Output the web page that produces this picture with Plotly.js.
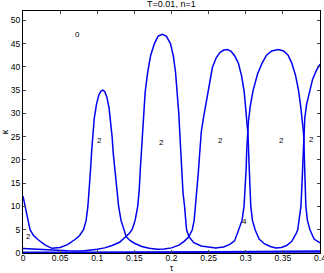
<!DOCTYPE html>
<html>
<head>
<meta charset="utf-8">
<script src="https://cdn.plot.ly/plotly-3.0.1.min.js"></script>
<style>html,body{margin:0;padding:0;background:#fff;}#chart{width:324px;height:273px;}</style>
</head>
<body>
<div id="chart"></div>
<script>
// Curve A: from left edge, U to peak 1, U, peak 3, U, rising to right edge
const tauA = [0, 0.002, 0.004, 0.0065, 0.0095, 0.014, 0.02, 0.03, 0.039, 0.05, 0.06, 0.07, 0.076, 0.0815, 0.085, 0.0874, 0.0895, 0.091, 0.0925, 0.0937, 0.096, 0.099, 0.102, 0.105, 0.1075, 0.11, 0.113, 0.116, 0.118, 0.12, 0.1215, 0.1235, 0.126, 0.1288, 0.132, 0.1355, 0.139, 0.144, 0.15, 0.16, 0.17, 0.181, 0.19, 0.2, 0.21, 0.217, 0.2234, 0.2255, 0.228, 0.2305, 0.2324, 0.2343, 0.236, 0.238, 0.2401, 0.243, 0.246, 0.25, 0.255, 0.26, 0.2655, 0.2705, 0.2752, 0.28, 0.285, 0.29, 0.2945, 0.298, 0.3005, 0.302, 0.303, 0.3045, 0.3055, 0.3068, 0.309, 0.3126, 0.318, 0.325, 0.333, 0.3405, 0.348, 0.355, 0.362, 0.366, 0.368, 0.37, 0.372, 0.3743, 0.3755, 0.3765, 0.3775, 0.378, 0.3795, 0.382, 0.386, 0.39, 0.395, 0.4];
const kapA = [12.2, 10.5, 9, 7, 5, 3.8, 2.9, 1.7, 1.0, 1.2, 1.8, 2.9, 3.7, 5, 7, 10, 14, 18, 22, 25, 29, 32, 33.9, 34.8, 35, 34.7, 33.5, 31, 28.5, 25, 21.5, 18, 14, 10, 7, 5, 3.5, 2.7, 2.1, 1.4, 1.0, 0.8, 0.85, 1.1, 1.7, 2.5, 3.5, 4.2, 5, 7, 10, 13.5, 17, 21.5, 26, 29, 31.5, 35.5, 39.8, 41.9, 43.1, 43.6, 43.7, 43.4, 42.4, 40.8, 38, 34.5, 30.5, 27.5, 25.5, 19, 14, 10, 7, 5, 3, 2, 1.4, 1.1, 1.2, 1.6, 2.5, 3.5, 4.2, 5, 7, 10, 14, 18, 22, 25.5, 29, 32, 35, 37.3, 39.2, 40.6];
// Curve B: from left edge, U to peak 2, U, peak 4, descending to right edge
const tauB = [0, 0.02, 0.04, 0.06, 0.08, 0.09, 0.1, 0.11, 0.12, 0.13, 0.139, 0.143, 0.1469, 0.151, 0.1545, 0.1565, 0.158, 0.1593, 0.1604, 0.1622, 0.1645, 0.168, 0.172, 0.177, 0.182, 0.1874, 0.193, 0.1986, 0.2025, 0.2054, 0.2078, 0.2098, 0.2113, 0.2125, 0.2135, 0.2155, 0.2176, 0.219, 0.2203, 0.2234, 0.2265, 0.23, 0.24, 0.2595, 0.27, 0.278, 0.285, 0.291, 0.295, 0.2977, 0.2995, 0.3005, 0.3013, 0.302, 0.3035, 0.306, 0.31, 0.316, 0.322, 0.328, 0.335, 0.3437, 0.351, 0.357, 0.362, 0.367, 0.371, 0.374, 0.3765, 0.378, 0.379, 0.3795, 0.3805, 0.381, 0.383, 0.3865, 0.392, 0.4];
const kapB = [0.95, 0.75, 0.6, 0.5, 0.45, 0.6, 0.8, 1.1, 1.6, 2.3, 3.5, 4.2, 5, 7, 10, 13.5, 18, 21.5, 25.4, 30, 34.5, 38.9, 42.5, 45, 46.6, 47, 46.6, 45, 42.3, 38.9, 34.5, 30, 25.4, 21, 17, 13, 10, 7, 5, 3.5, 2.8, 2.2, 1.5, 1.1, 1.3, 1.8, 2.6, 5, 7, 10, 14, 18, 22, 25.5, 28, 31.5, 35, 38.5, 40.8, 42.5, 43.4, 43.7, 43.4, 42.5, 40.8, 38.2, 35, 31.5, 28, 25.5, 20, 18, 14, 10, 7, 5, 3.0, 2.2];
// near-zero branches
const tauC = [0, 0.1, 0.2, 0.3, 0.4];
const kapC = [0.15, 0.15, 0.2, 0.2, 0.2];
const tauD = [0.08, 0.15, 0.25, 0.33, 0.4];
const kapD = [0.05, 0.15, 0.3, 0.4, 0.45];
// region labels
const labTau = [0.0734, 0.1027, 0.187, 0.266, 0.3486, 0.3888, 0.0072, 0.2977];
const labKap = [47, 24.2, 23.8, 24.2, 24.2, 24.4, 3.6, 6.7];
const labTxt = ['0', '2', '2', '2', '2', '2', '2', '4'];
const xTicks = [0, 0.05, 0.1, 0.15, 0.2, 0.25, 0.3, 0.35, 0.4];
const xTickText = ['0', '0.05', '0.1', '0.15', '0.2', '0.25', '0.3', '0.35', '0.4'];
const yTicks = [0, 5, 10, 15, 20, 25, 30, 35, 40, 45, 50];

const FAM = 'Liberation Sans, Arial, sans-serif';
const lineStyle = {color: '#0000ee', width: 1.5};
const traces = [
  {x: tauA, y: kapA, mode: 'lines', line: lineStyle, hoverinfo: 'skip'},
  {x: tauB, y: kapB, mode: 'lines', line: lineStyle, hoverinfo: 'skip'},
  {x: tauC, y: kapC, mode: 'lines', line: lineStyle, hoverinfo: 'skip'},
  {x: tauD, y: kapD, mode: 'lines', line: lineStyle, hoverinfo: 'skip'}
];
const annotations = labTxt.map((t, i) => ({
  x: labTau[i], y: labKap[i], xref: 'x', yref: 'y', text: t, showarrow: false,
  font: {family: FAM, size: 8, color: 'black'}
}));
const font = {family: FAM, size: 8.5, color: 'black'};
const layout = {
  width: 324, height: 273,
  margin: {l: 23, r: 4, t: 11, b: 19.5, pad: 0},
  paper_bgcolor: '#fff', plot_bgcolor: '#fff',
  showlegend: false,
  font: font,
  title: {text: 'T=0.01, n=1', font: {family: FAM, size: 9, color: 'black'},
          x: 0.529, xanchor: 'center', y: 0.985, yanchor: 'middle'},
  xaxis: {range: [0, 0.4], tickvals: xTicks, ticktext: xTickText, ticks: 'inside', ticklen: 3,
          ticklabeloverflow: 'allow', ticklabelstandoff: -3,
          showline: true, linecolor: 'black', linewidth: 1, mirror: 'ticks', showgrid: false, zeroline: false,
          tickfont: font, title: {text: 'τ', font: {family: FAM, size: 9, color: 'black'}, standoff: 0}},
  yaxis: {range: [0, 52], tickvals: yTicks, ticks: 'inside', ticklen: 3,
          showline: true, linecolor: 'black', linewidth: 1, mirror: 'ticks', showgrid: false, zeroline: false,
          tickfont: font, title: {text: 'κ', font: {family: FAM, size: 9, color: 'black'}, standoff: 2}},
  annotations: annotations
};
Plotly.newPlot('chart', traces, layout, {staticPlot: true, displayModeBar: false});
</script>
</body>
</html>
